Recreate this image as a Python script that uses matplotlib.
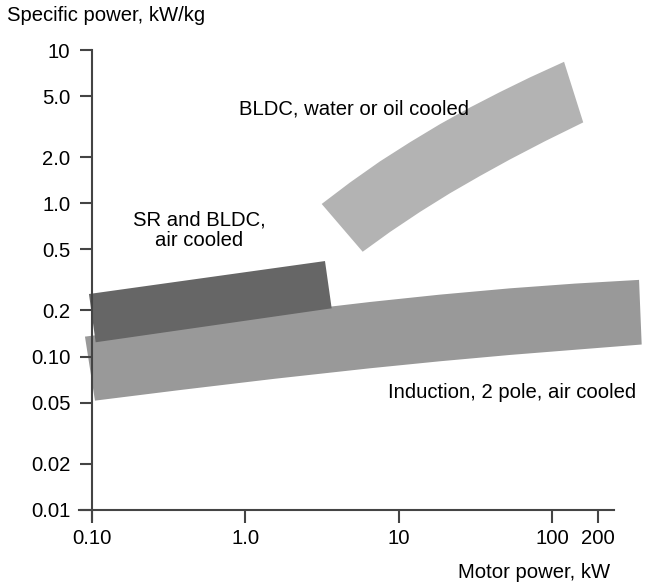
import matplotlib
matplotlib.use("Agg")
import matplotlib.pyplot as plt
from matplotlib.patches import Polygon

plt.rcParams["font.family"] = ["Liberation Sans", "DejaVu Sans"]

# band outlines (motor power kW, specific power kW/kg)
ind_top_x = [0.090, 0.375, 1.562, 6.51, 18.6, 53.3, 141.5, 370]
ind_top_y = [0.135, 0.1615, 0.1922, 0.2271, 0.2536, 0.2788, 0.2994, 0.3165]
ind_bot_x = [0.1046, 0.375, 1.562, 6.51, 18.6, 53.3, 141.5, 385]
ind_bot_y = [0.0516, 0.0605, 0.0717, 0.0839, 0.0932, 0.1025, 0.1108, 0.1199]

sr_top_x = [0.0956, 3.31]
sr_top_y = [0.256, 0.420]
sr_bot_x = [0.1057, 3.66]
sr_bot_y = [0.124, 0.2065]

bldc_top_x = [3.15, 4.82, 7.56, 11.9, 18.6, 29.2, 45.9, 71.9, 120]
bldc_top_y = [0.99, 1.367, 1.877, 2.507, 3.281, 4.216, 5.321, 6.627, 8.375]
bldc_bot_x = [5.83, 8.79, 13.8, 21.6, 34.0, 53.3, 90.2, 160]
bldc_bot_y = [0.483, 0.650, 0.879, 1.162, 1.509, 1.933, 2.542, 3.371]

x_ticks = [0.1, 1, 10, 100, 200]
x_labels = ["0.10", "1.0", "10", "100", "200"]
y_ticks = [0.01, 0.02, 0.05, 0.1, 0.2, 0.5, 1, 2, 5, 10]
y_labels = ["0.01", "0.02", "0.05", "0.10", "0.2", "0.5", "1.0", "2.0", "5.0", "10"]

FS = 14.6
AXC = "#444444"


def band(ax, tx, ty, bx, by, color, z):
    pts = list(zip(tx, ty)) + list(zip(bx, by))[::-1]
    ax.add_patch(Polygon(pts, closed=True, facecolor=color, edgecolor="none",
                         zorder=z))


fig = plt.figure(figsize=(6.47, 5.83), dpi=100)
ax = fig.add_axes([0.12210, 0.10806, 0.87790, 0.80617])
ax.set_xscale("log")
ax.set_yscale("log")
ax.set_xlim(0.0823, 417)
ax.set_ylim(0.00859, 10)

band(ax, ind_top_x, ind_top_y, ind_bot_x, ind_bot_y, "#999999", 1)
band(ax, sr_top_x, sr_top_y, sr_bot_x, sr_bot_y, "#666666", 2)
band(ax, bldc_top_x, bldc_top_y, bldc_bot_x, bldc_bot_y, "#b3b3b3", 2)

ax.text(0.91, 3.77, "BLDC, water or oil cooled", fontsize=FS,
        ha="left", va="baseline", zorder=5)
ax.text(0.501, 0.529, "SR and BLDC,\nair cooled", fontsize=FS,
        ha="center", va="baseline", linespacing=1.1, zorder=5)
ax.text(8.53, 0.0537, "Induction, 2 pole, air cooled", fontsize=FS,
        ha="left", va="baseline", zorder=5)

# axes styling
for s in ["top", "right"]:
    ax.spines[s].set_visible(False)
ax.spines["left"].set_position(("data", 0.1))
ax.spines["bottom"].set_position(("data", 0.01))
ax.spines["bottom"].set_bounds(0.0823, 254)
for s in ["left", "bottom"]:
    ax.spines[s].set_color(AXC)
    ax.spines[s].set_linewidth(1.5)

ax.set_xticks(x_ticks)
ax.set_xticklabels(x_labels)
ax.set_yticks(y_ticks)
ax.set_yticklabels(y_labels)
ax.minorticks_off()
ax.tick_params(axis="both", direction="out", length=9, width=1.5,
               color=AXC, labelsize=FS, labelcolor="black")
ax.tick_params(axis="x", pad=5)
ax.tick_params(axis="y", pad=6.5)

fig.text(7 / 647, 1 - 21 / 583, "Specific power, kW/kg", fontsize=FS,
         ha="left", va="baseline")
fig.text(610 / 647, 5 / 583, "Motor power, kW", fontsize=FS,
         ha="right", va="baseline")

fig.savefig("out.png", dpi=100)
